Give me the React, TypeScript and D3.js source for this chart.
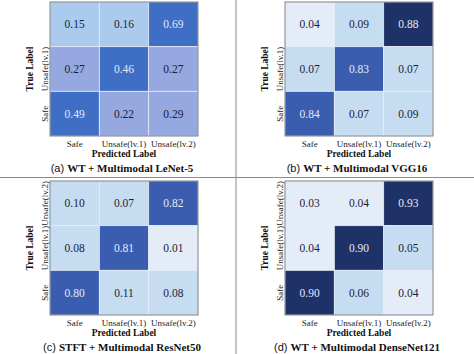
import React from "react";
import * as d3 from "d3";

const predLabels = ["Safe", "Unsafe(lv.1)", "Unsafe(lv.2)"];
const trueLabels = ["Unsafe(lv.2)", "Unsafe(lv.1)", "Safe"];

// rows top -> bottom (Unsafe lv.2, Unsafe lv.1, Safe), cols Safe, lv.1, lv.2
const lenetValues = [
  [0.15, 0.16, 0.69],
  [0.27, 0.46, 0.27],
  [0.49, 0.22, 0.29],
];
const vggValues = [
  [0.04, 0.09, 0.88],
  [0.07, 0.83, 0.07],
  [0.84, 0.07, 0.09],
];
const resnetValues = [
  [0.1, 0.07, 0.82],
  [0.08, 0.81, 0.01],
  [0.8, 0.11, 0.08],
];
const densenetValues = [
  [0.03, 0.04, 0.93],
  [0.04, 0.9, 0.05],
  [0.9, 0.06, 0.04],
];

const panelTags = ["(a)", "(b)", "(c)", "(d)"];
const panelTitles = [
  "WT + Multimodal LeNet-5",
  "WT + Multimodal VGG16",
  "STFT + Multimodal ResNet50",
  "WT + Multimodal DenseNet121",
];

const color = d3
  .scaleThreshold<number, string>()
  .domain([0.045, 0.12, 0.2, 0.4, 0.75, 0.85])
  .range(["#e4edf7", "#c6dcf1", "#aacbee", "#95a8e0", "#3e6fc4", "#3a5db0", "#1f3268"]);

const serif = "'Liberation Serif', 'Times New Roman', serif";

interface PanelProps {
  values: number[][];
  left: number;
  top: number;
  tag: string;
  title: string;
  showTopLabel: boolean;
}

const Panel: React.FC<PanelProps> = ({ values, left, top, tag, title, showTopLabel }) => {
  const w = 148;
  const h = 134;
  const x = d3.scaleBand<string>().domain(predLabels).range([left, left + w]);
  const y = d3.scaleBand<string>().domain(trueLabels).range([top, top + h]);
  const cx = left + w / 2;
  const cy = top + h / 2;

  return (
    <g>
      {values.map((row, i) =>
        row.map((v, j) => (
          <g key={`${i}-${j}`}>
            <rect
              x={x(predLabels[j])!}
              y={y(trueLabels[i])!}
              width={x.bandwidth()}
              height={y.bandwidth()}
              fill={color(v)}
              stroke="#e6edf8"
              strokeWidth={0.8}
            />
            <text
              x={x(predLabels[j])! + x.bandwidth() / 2}
              y={y(trueLabels[i])! + y.bandwidth() / 2}
              dy="0.35em"
              textAnchor="middle"
              fontFamily={serif}
              fontSize={11.5}
              fill={v >= 0.4 ? "#e2e9f8" : "#1c1c38"}
            >
              {v.toFixed(2)}
            </text>
          </g>
        ))
      )}
      <rect x={left} y={top} width={w} height={h} fill="none" stroke="#6b6b6b" strokeWidth={0.8} />

      {predLabels.map((p) => (
        <text
          key={p}
          x={x(p)! + x.bandwidth() / 2}
          y={top + h + 11}
          textAnchor="middle"
          fontFamily={serif}
          fontSize={9}
          fill="#222"
        >
          {p}
        </text>
      ))}
      {trueLabels.map((t, i) =>
        i === 0 && !showTopLabel ? null : (
          <text
            key={t}
            transform={`translate(${left - 2.5},${y(t)! + y.bandwidth() / 2}) rotate(-90)`}
            textAnchor="middle"
            fontFamily={serif}
            fontSize={9}
            fill="#222"
          >
            {t}
          </text>
        )
      )}
      <text
        x={cx}
        y={top + h + 21}
        textAnchor="middle"
        fontFamily={serif}
        fontSize={9.5}
        fontWeight="bold"
        fill="#111"
      >
        Predicted Label
      </text>
      <text
        transform={`translate(${left - 17},${cy}) rotate(-90)`}
        textAnchor="middle"
        fontFamily={serif}
        fontSize={9.5}
        fontWeight="bold"
        fill="#111"
      >
        True Label
      </text>
      <text x={cx - 2} y={top + h + 36} textAnchor="middle" fontSize={11} fill="#111">
        <tspan fontFamily="'Liberation Sans', Arial, sans-serif">{tag} </tspan>
        <tspan fontFamily={serif} fontWeight="bold">
          {title}
        </tspan>
      </text>
    </g>
  );
};

export default function App() {
  const all = [lenetValues, vggValues, resnetValues, densenetValues];
  const lefts = [50, 285, 50, 285];
  const tops = [2, 2, 181, 181];
  return (
    <svg width={474} height={354} style={{ position: "absolute", left: 0, top: 0, background: "#fff" }}>
      <line x1={236} x2={236} y1={0} y2={354} stroke="#8c8c8c" strokeWidth={1} />
      <line x1={0} x2={474} y1={177.5} y2={177.5} stroke="#8c8c8c" strokeWidth={1} />
      {all.map((vals, k) => (
        <Panel
          key={k}
          values={vals}
          left={lefts[k]}
          top={tops[k]}
          tag={panelTags[k]}
          title={panelTitles[k]}
          showTopLabel={k >= 2}
        />
      ))}
    </svg>
  );
}
